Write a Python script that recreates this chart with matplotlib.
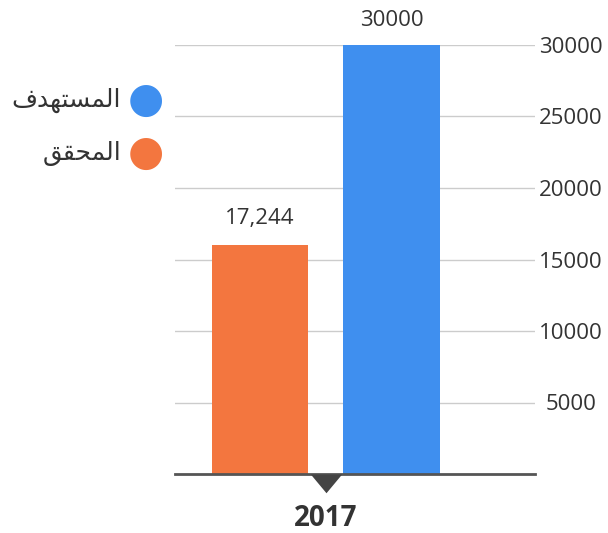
import matplotlib.pyplot as plt

# data
years = ["2017"]
series_names = ["\ufed6\ufed8\ufea4\ufee4\ufedf\ufe8d",          # المحقق (shaped, visual order)
                "\ufed1\ufeaa\ufeec\ufe98\ufeb4\ufee4\ufedf\ufe8d"]  # المستهدف
actual = [16000]
target = [30000]
actual_labels = ["17,244"]
target_labels = ["30000"]
yticks = [5000, 10000, 15000, 20000, 25000, 30000]

orange = '#f3763f'
blue = '#3f8fef'

plt.rcParams['font.family'] = ['Open Sans', 'DejaVu Sans']

fig = plt.figure(figsize=(6.08, 5.33), dpi=100)
ax = fig.add_axes([175/608, 59/533, 360/608, (474-45)/533])

w = 0.269
off = 0.183
x = list(range(len(years)))
ax.bar([i - off for i in x], actual, width=w, color=orange, zorder=3)
ax.bar([i + off for i in x], target, width=w, color=blue, zorder=3)

for i in x:
    ax.text(i - off, actual[i] + 1100, actual_labels[i], ha='center', va='bottom',
            fontsize=16, color='#333333', clip_on=False)
    ax.text(i + off, target[i] + 1000, target_labels[i], ha='center', va='bottom',
            fontsize=16, color='#333333', clip_on=False)

ax.set_xlim(-0.419, 0.581)
ax.set_ylim(0, 30000)
ax.set_yticks(yticks)
ax.yaxis.tick_right()
ax.tick_params(axis='y', length=0, pad=26, labelsize=16, labelcolor='#333333')
for lbl in ax.get_yticklabels():
    lbl.set_horizontalalignment('center')
ax.set_xticks([])
ax.grid(axis='y', color='#cccccc', linewidth=1, zorder=0)
for s in ['top', 'left', 'right']:
    ax.spines[s].set_visible(False)
ax.spines['bottom'].set_color('#555555')
ax.spines['bottom'].set_linewidth(2)
ax.spines['bottom'].set_zorder(4)

# category marker and label
tri = [(-1, 0), (1, 0), (0, -1.2), (-1, 0)]
for i, yr in enumerate(years):
    ax.plot([i], [0], marker=tri, markersize=27, color='#444444',
            markeredgewidth=0, clip_on=False, zorder=5)
    ax.text(i, -2100, yr, ha='center', va='top', fontsize=20,
            fontweight='bold', color='#333333', clip_on=False)

# legend on the left
colors = [orange, blue]
ypos = [153, 100]
for name, c, yp in zip(series_names, colors, ypos):
    fig.text(146/608, 1 - yp/533, '\u25cf', color=c, fontsize=30,
             ha='center', va='center', family=['DejaVu Sans'])
    fig.text(121/608, 1 - yp/533, name, color='#333333', fontsize=18,
             ha='right', va='center', family=['DejaVu Sans'])

fig.savefig('out.png', dpi=100)
